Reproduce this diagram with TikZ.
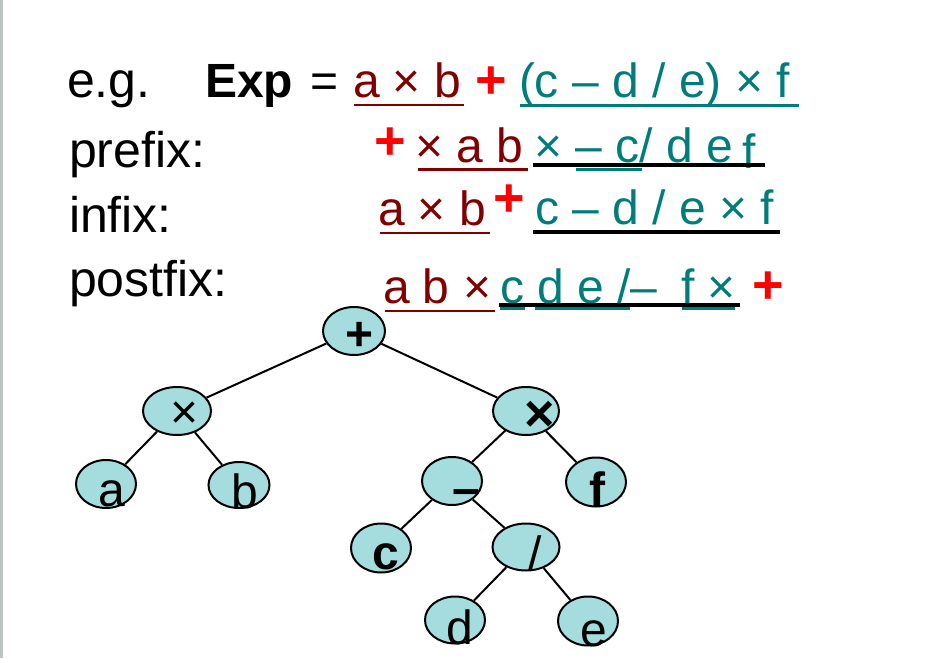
\documentclass[tikz,border=0pt]{standalone}
\usepackage{fontspec}
\setmainfont{Liberation Sans}
\usetikzlibrary{shapes.geometric}
\definecolor{dred}{RGB}{128,0,0}
\definecolor{tealc}{RGB}{0,124,122}
\definecolor{nodefill}{RGB}{165,220,221}
\definecolor{edgegray}{RGB}{190,195,195}
\tikzset{
  txt/.style={inner sep=0pt, outer sep=0pt, anchor=base west, font=\fontsize{48}{48}\selectfont},
  lbl/.style={txt, font=\fontsize{50}{50}\selectfont},
  sym/.style={inner sep=0pt, outer sep=0pt, anchor=center, font=\fontsize{48}{48}\selectfont},
  redplus/.style={sym, text=red, font=\fontsize{54}{54}\selectfont\bfseries},
  tnode/.style={ellipse, draw=black, line width=2pt, fill=nodefill, inner sep=0pt},
  tedge/.style={line width=2pt, black},
  ulred/.style={dred, line width=2.5pt},
  ulteal/.style={tealc, line width=3pt},
  ulblack/.style={black, line width=4pt}
}
\begin{document}
\begin{tikzpicture}[x=1pt,y=-1pt]
\useasboundingbox (0,0) rectangle (936,658);
\fill[white] (0,0) rectangle (936,658);
\fill[edgegray] (0,0) rectangle (2.5,658);

% ---- line 1
\node[lbl] (eg) at (67,98) {e.g.};
\node[txt] (exp) at (205,98) {\textbf{Exp}};
\node[txt] (eq) at (310,98) {=};
\node[txt, text=dred] (l1a) at (353,98) {a × b};
\node[redplus] (l1p) at (491,83) {+};
\node[txt, text=tealc] (l1b) at (519,98) {(c – d / e) × f};
\coordinate (u1a) at (354,105); \coordinate (u1b) at (464,105);
\draw[ulred] (u1a) -- (u1b);
\coordinate (u1c) at (520,106); \coordinate (u1d) at (799,106);
\draw[ulteal] (u1c) -- (u1d);

% ---- line 2 prefix
\node[lbl] (pre) at (69,167) {prefix:};
\node[redplus] (l2p) at (390,144) {+};
\node[txt, text=dred] (l2a) at (415,162) {× a b};
\node[txt, text=tealc] (l2b) at (534,162) {× – c/ d e};
\node[txt, text=tealc] (l2f) at (742,168) {f};
\coordinate (u2a) at (533,165); \coordinate (u2b) at (765,165);
\draw[ulblack] (u2a) -- (u2b);
\coordinate (u2c) at (418,169.5); \coordinate (u2d) at (528,169.5);
\draw[ulred] (u2c) -- (u2d);
\coordinate (u2e) at (576,169.5); \coordinate (u2f) at (642,169.5);
\draw[ulteal] (u2e) -- (u2f);

% ---- line 3 infix
\node[lbl] (inf) at (69,232) {infix:};
\node[txt, text=dred] (l3a) at (378,225) {a × b};
\node[redplus] (l3p) at (509,201) {+};
\node[txt, text=tealc] (l3b) at (535,224) {c – d / e × f};
\coordinate (u3a) at (533,231.5); \coordinate (u3b) at (780,231.5);
\draw[ulblack] (u3a) -- (u3b);
\coordinate (u3c) at (380,233); \coordinate (u3d) at (490,233);
\draw[ulred] (u3c) -- (u3d);

% ---- line 4 postfix
\node[lbl] (post) at (69,296) {postfix:};
\node[txt, text=dred] (l4a) at (383,303) {a b ×};
\node[txt, text=tealc] (l4b) at (500,303) {c d e /–};
\node[txt, text=tealc] (l4c) at (681,303) {f ×};
\node[redplus] (l4p) at (768,288) {+};
\coordinate (u4a) at (499,305); \coordinate (u4b) at (740,305);
\draw[ulblack] (u4a) -- (u4b);
\coordinate (u4c) at (385,311); \coordinate (u4d) at (495,311);
\draw[ulred] (u4c) -- (u4d);
\coordinate (u4e) at (500,308); \coordinate (u4f) at (525,308);
\coordinate (u4g) at (535,308); \coordinate (u4h) at (630,308);
\coordinate (u4i) at (682,308); \coordinate (u4j) at (735,308);
\draw[ulteal] (u4e) -- (u4f);
\draw[ulteal] (u4g) -- (u4h);
\draw[ulteal] (u4i) -- (u4j);

% ---- tree
\node[tnode, minimum width=62pt, minimum height=48pt] (nplus) at (354,331) {};
\node[tnode, minimum width=68pt, minimum height=48pt] (nmulL) at (177,411) {};
\node[tnode, minimum width=60pt, minimum height=48pt] (na) at (106,484) {};
\node[tnode, minimum width=61pt, minimum height=46pt] (nb) at (239,485) {};
\node[tnode, minimum width=66pt, minimum height=48pt] (nmulR) at (526,411) {};
\node[tnode, minimum width=60pt, minimum height=48pt] (nminus) at (452,481) {};
\node[tnode, minimum width=60pt, minimum height=49pt] (nf) at (596,482) {};
\node[tnode, minimum width=60pt, minimum height=49pt] (nc) at (381,548) {};
\node[tnode, minimum width=67pt, minimum height=47pt] (ndiv) at (526,547) {};
\node[tnode, minimum width=60pt, minimum height=47pt] (nd) at (455,620) {};
\node[tnode, minimum width=60pt, minimum height=49pt] (ne) at (588,621) {};

\draw[tedge] (nplus) -- (nmulL);
\draw[tedge] (nplus) -- (nmulR);
\draw[tedge] (nmulL) -- (na);
\draw[tedge] (nmulL) -- (nb);
\draw[tedge] (nmulR) -- (nminus);
\draw[tedge] (nmulR) -- (nf);
\draw[tedge] (nminus) -- (nc);
\draw[tedge] (nminus) -- (ndiv);
\draw[tedge] (ndiv) -- (nd);
\draw[tedge] (ndiv) -- (ne);

% tree labels
\node[sym, font=\fontsize{48}{48}\selectfont\bfseries] (tplus) at (360,336) {+};
\node[sym] (tmulL) at (185,415) {×};
\node[sym] (ta) at (112,494) {a};
\node[sym] (tb) at (245,491) {b};
\node[sym, font=\fontsize{52}{52}\selectfont\bfseries] (tmulR) at (540,416) {×};
\node[sym, font=\fontsize{50}{50}\selectfont\bfseries] (tminus) at (466,498) {–};
\node[sym, font=\fontsize{48}{48}\selectfont\bfseries] (tf) at (597,489) {f};
\node[sym, font=\fontsize{48}{48}\selectfont\bfseries] (tc) at (386,557) {c};
\node[sym] (tdiv) at (535,553) {/};
\node[sym] (td) at (460,627) {d};
\node[sym] (te) at (594,634) {e};
\end{tikzpicture}
\end{document}
